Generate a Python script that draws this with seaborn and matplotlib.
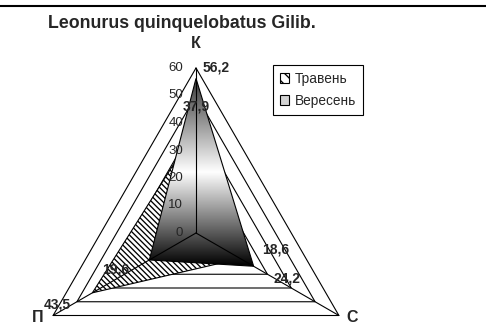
import numpy as np
import pandas as pd
import matplotlib
matplotlib.use("Agg")
import matplotlib.pyplot as plt
import seaborn as sns
from matplotlib.patches import Polygon, Patch
from matplotlib.lines import Line2D
from matplotlib.colors import LinearSegmentedColormap

# ---------------- data ----------------
title = "Leonurus quinquelobatus Gilib."
categories = ["К", "С", "П"]
series_names = ["Травень", "Вересень"]
traven = [37.9, 18.6, 43.5]
veresen = [56.2, 24.2, 19.6]
ticks = [0, 10, 20, 30, 40, 50, 60]
tick_labels = ["0", "10", "20", "30", "40", "50", "60"]

# ---------------- style / layout ----------------
sns.set_style("white")
plt.rcParams["font.family"] = ["Liberation Sans", "DejaVu Sans"]
plt.rcParams["hatch.linewidth"] = 0.95

W, H, DPI = 486, 324, 100
PX = 2.75            # pixels per data unit
CX, CY = 196, 233    # centre of the radar in pixels (from top-left)
angles = np.deg2rad([90, -30, 210])
rmax = ticks[-1]

fig = plt.figure(figsize=(W / DPI, H / DPI), dpi=DPI)
ax = fig.add_axes([0, 0, 1, 1])


def vert(vals):
    vals = np.asarray(vals, dtype=float)
    return vals * np.cos(angles), vals * np.sin(angles)


# grid triangles (seaborn lineplot)
rows = []
for t in ticks[1:]:
    xs, ys = vert([t] * 3)
    for k in list(range(3)) + [0]:
        rows.append({"x": xs[k], "y": ys[k], "level": t})
grid_df = pd.DataFrame(rows)
sns.lineplot(data=grid_df, x="x", y="y", units="level", estimator=None,
             sort=False, color="black", lw=0.8, ax=ax, zorder=1, legend=False)

# series 1: hatched
hatch = "\\" * 6
xs1, ys1 = vert(traven)
ax.fill(xs1, ys1, facecolor="white", edgecolor="black", hatch=hatch,
        lw=0.8, zorder=2)

# series 2: gradient fill
xs2, ys2 = vert(veresen)
poly = Polygon(np.column_stack([xs2, ys2]), closed=True, facecolor="none",
               edgecolor="black", lw=0.8, zorder=4)
ax.add_patch(poly)
cmap = LinearSegmentedColormap.from_list(
    "grad", [(0.0, "#383838"), (0.5, "#ffffff"), (1.0, "#000000")])
grad = np.linspace(0, 1, 256).reshape(-1, 1)
im = ax.imshow(grad, cmap=cmap, origin="upper", aspect="auto",
               extent=[xs2.min(), xs2.max(), ys2.min(), ys2.max()], zorder=3)
im.set_clip_path(poly)

# spokes
for a in angles:
    ax.plot([0, rmax * np.cos(a)], [0, rmax * np.sin(a)], color="black",
            lw=0.8, zorder=5)

# radial tick labels
for t, lab in zip(ticks, tick_labels):
    ax.annotate(lab, xy=(0, t), xytext=(-13, 0), textcoords="offset pixels",
                ha="right", va="center", fontsize=9.5, zorder=6)

# category labels
cat_offsets = [(0, 24), (13, -1.5), (-15, -1.5)]
vx, vy = vert([rmax] * 3)
for k, cat in enumerate(categories):
    ax.annotate(cat, xy=(vx[k], vy[k]), xytext=cat_offsets[k],
                textcoords="offset pixels", ha="center", va="center",
                fontsize=11.5, fontweight="bold")

# data labels
def fmt(v):
    return f"{v:.1f}".replace(".", ",")

traven_offsets = [(0, 22), (35, 9), (-35, -12)]
veresen_offsets = [(20, 11), (33, -12), (-34, -10)]
for vals, offs in ((traven, traven_offsets), (veresen, veresen_offsets)):
    px, py = vert(vals)
    for k, v in enumerate(vals):
        ax.annotate(fmt(v), xy=(px[k], py[k]), xytext=offs[k],
                    textcoords="offset pixels", ha="center", va="center",
                    fontsize=10, fontweight="bold", zorder=7)

ax.set_xlim(-CX / PX, (W - CX) / PX)
ax.set_ylim(-(H - CY) / PX, CY / PX)
ax.axis("off")

# title and top rule
fig.text(48 / W, 1 - 24 / H, title, ha="left", va="center",
         fontsize=12.8, fontweight="bold")
fig.add_artist(Line2D([0, 1], [1 - 6 / H] * 2, color="black", lw=1.5,
                      transform=fig.transFigure))

# legend
handles = [Patch(facecolor="white", edgecolor="black", hatch="\\\\\\", lw=0.8),
           Patch(facecolor="#d4d4d4", edgecolor="black", lw=0.8)]
leg = fig.legend(handles, series_names, loc="upper left",
                 bbox_to_anchor=(273 / W, 1 - 65 / H), frameon=True,
                 fancybox=False, edgecolor="black", framealpha=1,
                 fontsize=9.8, handlelength=0.7, handleheight=0.7,
                 handletextpad=0.4, borderpad=0.5, labelspacing=0.6,
                 borderaxespad=0)
leg.get_frame().set_linewidth(0.8)

fig.savefig("out.png", dpi=DPI)
